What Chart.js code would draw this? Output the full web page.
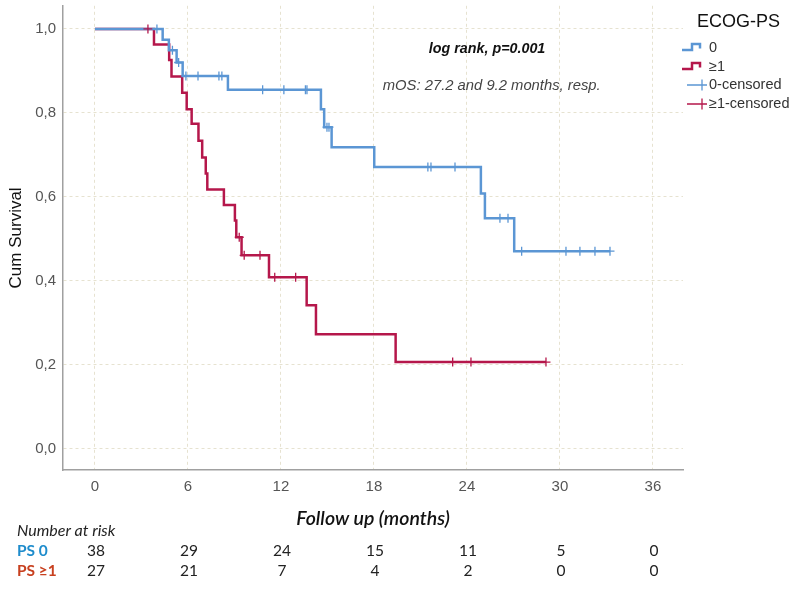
<!DOCTYPE html>
<html><head><meta charset="utf-8">
<script src="https://cdn.jsdelivr.net/npm/chart.js@4.4.0/dist/chart.umd.min.js"></script>
<style>html,body{margin:0;padding:0;background:#fff;} #wrap{width:800px;height:590px;position:relative;}</style>
</head><body><div id="wrap"><canvas id="c" width="800" height="590"></canvas></div>
<script>
// ---- data ----
const xTicks = [0, 6, 12, 18, 24, 30, 36];
const yTicks = [0, 0.2, 0.4, 0.6, 0.8, 1.0];
const yTickLabels = ['0,0', '0,2', '0,4', '0,6', '0,8', '1,0'];

// ECOG-PS 0 : time where survival changes, and survival from that time on
const ps0Times = [0, 4.37, 4.77, 5.27, 5.66, 8.58, 14.58, 14.79, 15.27, 18.02, 24.9, 25.16, 27.05, 33.23];
const ps0Surv  = [1.0, 0.974, 0.949, 0.920, 0.888, 0.855, 0.809, 0.766, 0.718, 0.671, 0.608, 0.549, 0.471, 0.471];
const ps0Censored = [4.0, 5.0, 5.4, 5.87, 6.65, 8.0, 8.19, 10.82, 12.19, 13.58, 13.68, 14.97, 15.1, 21.48, 21.68, 23.23, 26.13, 26.65, 27.53, 30.39, 31.29, 32.26, 33.23];

// ECOG-PS >=1
const ps1Times = [0, 3.81, 4.79, 4.94, 5.63, 5.92, 6.24, 6.68, 6.92, 7.15, 7.25, 8.32, 9.03, 9.12, 9.46, 11.23, 13.66, 14.26, 19.4, 29.1];
const ps1Surv  = [1.0, 0.963, 0.926, 0.887, 0.848, 0.809, 0.774, 0.734, 0.694, 0.656, 0.618, 0.581, 0.544, 0.504, 0.461, 0.409, 0.342, 0.273, 0.207, 0.207];
const ps1Censored = [3.42, 9.31, 9.63, 10.65, 11.6, 12.95, 23.08, 24.26, 29.1];

const riskTimes = [0, 6, 12, 18, 24, 30, 36];
const riskPS0 = [38, 29, 24, 15, 11, 5, 0];
const riskPS1 = [27, 21, 7, 4, 2, 0, 0];

const legendLabels = ['0', '\u22651', '0-censored', '\u22651-censored'];
const legendTitle = 'ECOG-PS';
const annot1 = 'log rank, p=0.001';
const annot2 = 'mOS: 27.2 and 9.2 months, resp.';
const xTitle = 'Follow up (months)';
const yTitle = 'Cum Survival';

// ---- styles ----
const BLUE = '#5b96d4';
const RED = '#b5174b';
const GRID = '#e6e2d0';
const AXIS = '#a0a0a0';

function levelAt(times, surv, t) {
  let v = surv[0];
  for (let i = 0; i < times.length; i++) { if (times[i] <= t) v = surv[i]; }
  return v;
}
const toPts = (times, surv) => times.map((t, i) => ({x: t, y: surv[i]}));
const censorPts = (cens, times, surv) => cens.map(t => ({x: t, y: levelAt(times, surv, t)}));

const overlay = {
  id: 'overlay',
  afterDraw(chart) {
    const ctx = chart.ctx, xs = chart.scales.x, ys = chart.scales.y, a = chart.chartArea;
    ctx.save();
    // y title
    ctx.fillStyle = '#111';
    ctx.font = '17px "Liberation Sans", Arial, sans-serif';
    ctx.textAlign = 'center'; ctx.textBaseline = 'middle';
    ctx.translate(16, (a.top + a.bottom) / 2);
    ctx.rotate(-Math.PI / 2);
    ctx.fillText(yTitle, 0, 0);
    ctx.setTransform(1, 0, 0, 1, 0, 0);
    // x title
    ctx.font = 'italic 600 19.5px Lato, "Open Sans", sans-serif';
    ctx.fillStyle = '#111';
    ctx.fillText(xTitle, 373, 519);
    // annotations
    ctx.font = 'italic bold 14.3px "Liberation Sans", Arial, sans-serif';
    ctx.fillStyle = '#111';
    ctx.fillText(annot1, xs.getPixelForValue(25.3), ys.getPixelForValue(0.952));
    ctx.font = 'italic 14.8px "Liberation Sans", Arial, sans-serif';
    ctx.fillStyle = '#444';
    ctx.fillText(annot2, xs.getPixelForValue(25.6), ys.getPixelForValue(0.865));
    // legend
    ctx.textAlign = 'left';
    ctx.fillStyle = '#111';
    ctx.font = '18px "Liberation Sans", Arial, sans-serif';
    ctx.fillText(legendTitle, 697, 22);
    const rowY = [47.5, 66.5, 85, 104];
    ctx.font = '14.5px "Liberation Sans", Arial, sans-serif';
    ctx.fillStyle = '#333';
    legendLabels.forEach((lab, i) => ctx.fillText(lab, 709, rowY[i]));
    [[BLUE, rowY[0]], [RED, rowY[1]]].forEach(([c, y]) => {
      ctx.strokeStyle = c; ctx.lineWidth = 2.5; ctx.beginPath();
      ctx.moveTo(682, y + 2.5); ctx.lineTo(692, y + 2.5); ctx.lineTo(692, y - 3.5);
      ctx.lineTo(700, y - 3.5); ctx.lineTo(700, y + 1); ctx.stroke();
    });
    [[BLUE, rowY[2]], [RED, rowY[3]]].forEach(([c, y]) => {
      ctx.strokeStyle = c; ctx.lineWidth = 1.3; ctx.beginPath();
      ctx.moveTo(687, y); ctx.lineTo(707, y);
      ctx.moveTo(702, y - 5.5); ctx.lineTo(702, y + 5.5); ctx.stroke();
    });
    // risk table
    ctx.textAlign = 'left';
    ctx.fillStyle = '#222';
    ctx.font = 'italic 16px Lato, "Open Sans", sans-serif';
    ctx.fillText('Number at risk', 17, 531);
    ctx.font = 'bold 15.5px Lato, "Open Sans", sans-serif';
    ctx.fillStyle = '#1e8ccc';
    ctx.fillText('PS 0', 17, 551);
    ctx.fillStyle = '#c8401f';
    ctx.fillText('PS \u22651', 17, 571);
    ctx.textAlign = 'center';
    ctx.fillStyle = '#222';
    ctx.font = '15.5px Lato, "Open Sans", sans-serif';
    riskTimes.forEach((t, i) => {
      const px = xs.getPixelForValue(t) + 1;
      ctx.fillText(String(riskPS0[i]), px, 551);
      ctx.fillText(String(riskPS1[i]), px, 571);
    });
    ctx.restore();
  }
};

new Chart(document.getElementById('c'), {
  type: 'line',
  data: {
    datasets: [
      {label: '0-censored', type: 'scatter', data: censorPts(ps0Censored, ps0Times, ps0Surv),
       pointStyle: 'cross', pointRadius: 4.5, borderColor: BLUE, borderWidth: 1.3, pointHoverRadius: 4.5, showLine: false},
      {label: '\u22651-censored', type: 'scatter', data: censorPts(ps1Censored, ps1Times, ps1Surv),
       pointStyle: 'cross', pointRadius: 4.5, borderColor: RED, borderWidth: 1.3, pointHoverRadius: 4.5, showLine: false},
      {label: '0', data: toPts(ps0Times, ps0Surv), stepped: true, borderColor: BLUE, borderWidth: 2.5,
       pointRadius: 0, fill: false},
      {label: '\u22651', data: toPts(ps1Times, ps1Surv), stepped: true, borderColor: RED, borderWidth: 2.5,
       pointRadius: 0, fill: false}
    ]
  },
  options: {
    responsive: false, animation: false, devicePixelRatio: 1,
    layout: {padding: {left: 0, right: 117, top: 5, bottom: 0}},
    plugins: {legend: {display: false}, tooltip: {enabled: false}},
    scales: {
      x: {
        type: 'linear', min: -2.06, max: 37.94,
        afterBuildTicks: s => { s.ticks = xTicks.map(v => ({value: v})); },
        afterFit: s => { s.height = 120; s.paddingLeft = 0; s.paddingRight = 0; },
        ticks: {color: '#555', font: {family: '"Liberation Sans", Arial, sans-serif', size: 15}, padding: 8,
                maxRotation: 0, autoSkip: false, callback: (v) => String(v)},
        grid: {color: GRID, lineWidth: 1, drawTicks: false},
        border: {display: true, color: AXIS, width: 1.5, dash: [3, 3]}
      },
      y: {
        type: 'linear', min: -0.05, max: 1.055,
        afterBuildTicks: s => { s.ticks = yTicks.map(v => ({value: v})); },
        afterFit: s => { s.width = 63; s.paddingTop = 0; s.paddingBottom = 0; },
        ticks: {color: '#555', font: {family: '"Liberation Sans", Arial, sans-serif', size: 15}, padding: 7,
                autoSkip: false, callback: (v, i) => yTickLabels[i]},
        grid: {color: GRID, lineWidth: 1, drawTicks: false},
        border: {display: true, color: AXIS, width: 1.5, dash: [3, 3]}
      }
    }
  },
  plugins: [overlay]
});
</script></body></html>
